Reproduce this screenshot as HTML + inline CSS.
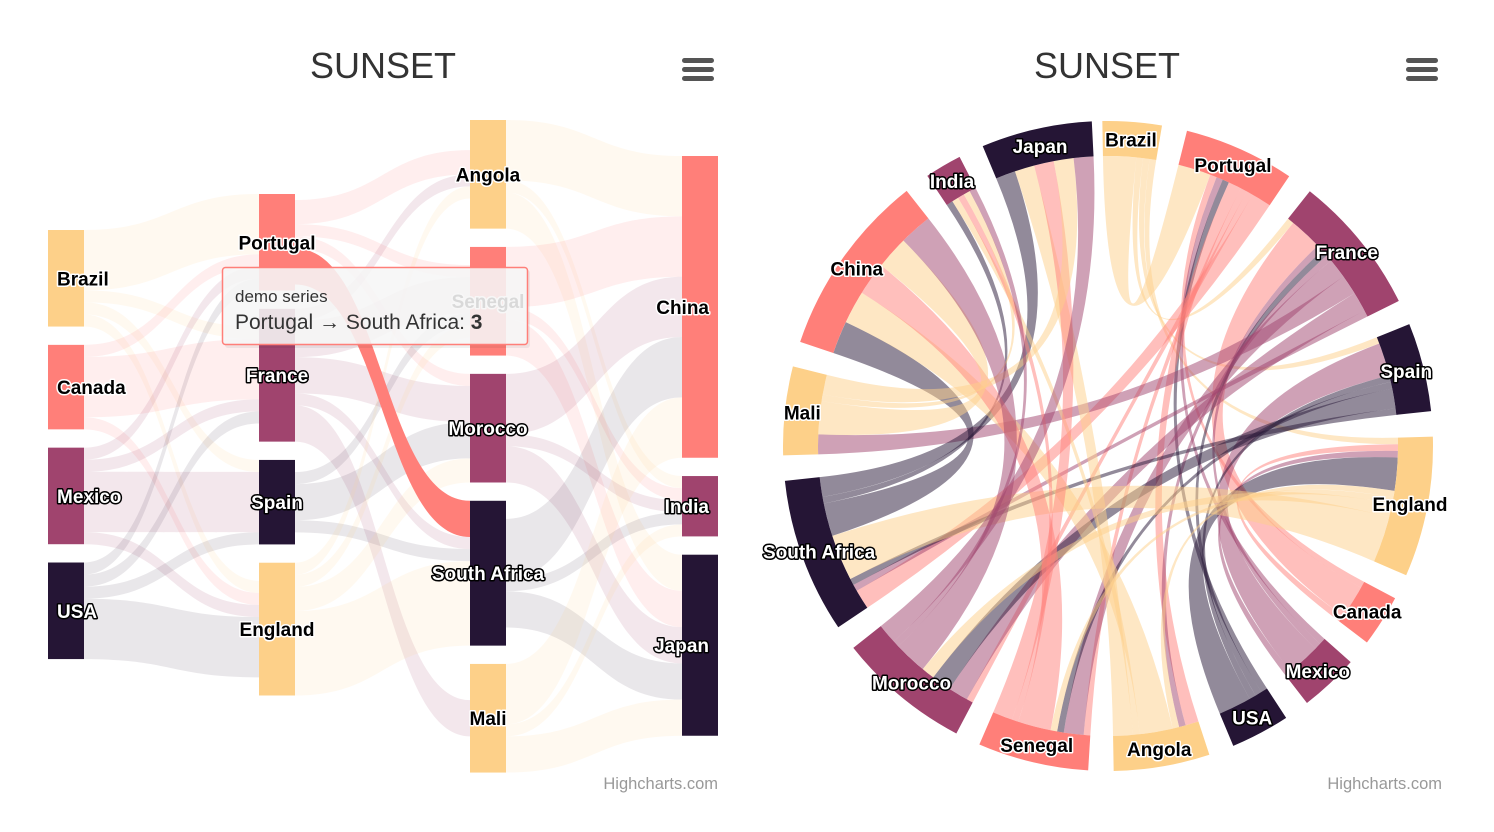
<!DOCTYPE html>
<html><head><meta charset="utf-8"><style>
html,body{margin:0;padding:0;background:#fff;width:1494px;height:832px;overflow:hidden}
svg text{font-family:"Liberation Sans",sans-serif}
.lbl{font-weight:bold;font-size:19px;paint-order:stroke;stroke-linejoin:round}
</style></head><body>
<svg id="s" width="1494" height="832" xmlns="http://www.w3.org/2000/svg">
<rect width="1494" height="832" fill="#fff"/>
<g id="sank"></g><g id="wheel"></g>
<text x="383" y="78" font-size="36" fill="#333" text-anchor="middle">SUNSET</text>
<text x="1107" y="78" font-size="36" fill="#333" text-anchor="middle">SUNSET</text>
<g fill="#555">
<rect x="682" y="58" width="32" height="5" rx="2.5"/><rect x="682" y="67" width="32" height="5" rx="2.5"/><rect x="682" y="76" width="32" height="5" rx="2.5"/>
<rect x="1406" y="58" width="32" height="5" rx="2.5"/><rect x="1406" y="67" width="32" height="5" rx="2.5"/><rect x="1406" y="76" width="32" height="5" rx="2.5"/>
</g>
<text x="718" y="789" font-size="16.5" fill="#999" text-anchor="end">Highcharts.com</text>
<text x="1442" y="789" font-size="16.5" fill="#999" text-anchor="end">Highcharts.com</text>
<g id="tip"></g>
</svg>
<script>
const NS="http://www.w3.org/2000/svg";
function el(p,t,a,txt){const e=document.createElementNS(NS,t);for(const k in a)e.setAttribute(k,a[k]);if(txt!==undefined)e.textContent=txt;p.appendChild(e);return e;}
const COL=['#FDD089','#FF7F79','#A0446E','#251535'];
const data=[['Brazil','Portugal',5],['Brazil','France',1],['Brazil','Spain',1],['Brazil','England',1],['Canada','Portugal',1],['Canada','France',5],['Canada','England',1],['Mexico','Portugal',1],['Mexico','France',1],['Mexico','Spain',5],['Mexico','England',1],['USA','Portugal',1],['USA','France',1],['USA','Spain',1],['USA','England',5],['Portugal','Angola',2],['Portugal','Senegal',1],['Portugal','Morocco',1],['Portugal','South Africa',3],['France','Angola',1],['France','Senegal',3],['France','Mali',3],['France','Morocco',3],['France','South Africa',1],['Spain','Senegal',1],['Spain','Morocco',3],['Spain','South Africa',1],['England','Angola',1],['England','Senegal',1],['England','Morocco',2],['England','South Africa',7],['South Africa','China',5],['South Africa','India',1],['South Africa','Japan',3],['Angola','China',5],['Angola','India',1],['Angola','Japan',3],['Senegal','China',5],['Senegal','India',1],['Senegal','Japan',3],['Mali','China',5],['Mali','India',1],['Mali','Japan',3],['Morocco','China',5],['Morocco','India',1],['Morocco','Japan',3]];
const wo=['Brazil','Portugal','France','Spain','England','Canada','Mexico','USA','Angola','Senegal','Morocco','South Africa','Mali','China','India','Japan'];
const color={};wo.forEach((n,i)=>color[n]=COL[i%4]);
const inS={},outS={};wo.forEach(n=>{inS[n]=0;outS[n]=0});
data.forEach(([a,b,v])=>{outS[a]+=v;inS[b]+=v});
// SANKEY
const cols=[['Brazil','Canada','Mexico','USA'],['Portugal','France','Spain','England'],['Angola','Senegal','Morocco','South Africa','Mali'],['China','India','Japan']];
const cx=[48,259,470,682],ctop=[230,194,120,156],s=12.07,gap=18.3,W=36;
const N={};
cols.forEach((c,ci)=>{let y=ctop[ci];c.forEach(n=>{const v=Math.max(inS[n],outS[n]);N[n]={x:cx[ci],y:y,h:v*s,ci:ci};y+=v*s+gap;});});
const sk=document.getElementById('sank');
const oc={},ic={};
for(const n in N){oc[n]=N[n].y+(N[n].h-outS[n]*s)/2;ic[n]=N[n].y+(N[n].h-inS[n]*s)/2;}
const sortedOut=data.slice().sort((p,q)=>N[p[0]].y-N[q[0]].y||N[p[1]].y-N[q[1]].y);
const links=[];
sortedOut.forEach(l=>{links.push({l:l,y1:oc[l[0]]});oc[l[0]]+=l[2]*s;});
const byIn=links.slice().sort((p,q)=>N[p.l[1]].y-N[q.l[1]].y||N[p.l[0]].y-N[q.l[0]].y);
byIn.forEach(k=>{k.y2=ic[k.l[1]];ic[k.l[1]]+=k.l[2]*s;});
let hl=null;
links.forEach(k=>{const [a,b,v]=k.l;const x1=N[a].x+W,x2=N[b].x,h=v*s,m=(x1+x2)/2;
const d=`M${x1},${k.y1}C${m},${k.y1} ${m},${k.y2} ${x2},${k.y2}L${x2},${k.y2+h}C${m},${k.y2+h} ${m},${k.y1+h} ${x1},${k.y1+h}Z`;
if(a=='Portugal'&&b=='South Africa')hl=d;else el(sk,'path',{d:d,fill:color[a],'fill-opacity':color[a]=='#251535'?0.1:0.13});});
el(sk,'path',{d:hl,fill:'#FF7F79'});
for(const n in N){const o=N[n];el(sk,'rect',{x:o.x,y:o.y,width:W,height:o.h,fill:color[n]});}
for(const n in N){const o=N[n];const dark=color[n]=='#A0446E'||color[n]=='#251535';
let x,anc;if(o.ci==0){x=o.x+9;anc='start'}else if(o.ci==3){x=o.x+W-9;anc='end'}else{x=o.x+W/2;anc='middle'}
el(sk,'text',{x:x,y:o.y+o.h/2+7,'text-anchor':anc,class:'lbl',fill:dark?'#fff':'#000',stroke:dark?'#000':'#fff','stroke-width':3},n);}
// WHEEL
const wg=document.getElementById('wheel');
const CX=1108,CY=446,RO=325,RI=290,g=4.5,u=(360-16*g)/218;
const A={};let ang=-1;
wo.forEach(n=>{const v=inS[n]+outS[n];A[n]={a0:ang,a1:ang+v*u,cur:ang};ang+=v*u+g;});
function P(a,r){const t=(a-90)*Math.PI/180;return [CX+r*Math.cos(t),CY+r*Math.sin(t)];}
data.forEach(([a,b,v])=>{const s0=A[a].cur,s1=s0+v*u;A[a].cur=s1;const t0=A[b].cur,t1=t0+v*u;A[b].cur=t1;
const p1=P(s0,RI),p2=P(s1,RI),p3=P(t0,RI),p4=P(t1,RI);
const d=`M${p1}A${RI},${RI} 0 0 1 ${p2}Q${CX},${CY} ${p3}A${RI},${RI} 0 0 1 ${p4}Q${CX},${CY} ${p1}Z`;
el(wg,'path',{d:d,fill:color[a],'fill-opacity':0.5});});
wo.forEach(n=>{const o=A[n];const p1=P(o.a0,RO),p2=P(o.a1,RO),p3=P(o.a1,RI),p4=P(o.a0,RI);const big=(o.a1-o.a0)>180?1:0;
el(wg,'path',{d:`M${p1}A${RO},${RO} 0 ${big} 1 ${p2}L${p3}A${RI},${RI} 0 ${big} 0 ${p4}Z`,fill:color[n]});});
wo.forEach(n=>{const o=A[n];const p=P((o.a0+o.a1)/2,(RO+RI)/2);const dark=color[n]=='#A0446E'||color[n]=='#251535';
el(wg,'text',{x:p[0],y:p[1]+7,'text-anchor':'middle',class:'lbl',fill:dark?'#fff':'#000',stroke:dark?'#000':'#fff','stroke-width':3},n);});
// tooltip
const tp=document.getElementById('tip');
el(tp,'rect',{x:225,y:270,width:305,height:78,fill:'#000','fill-opacity':0.06,rx:3});
el(tp,'rect',{x:222.5,y:267.5,width:305,height:77,fill:'#f7f7f7','fill-opacity':0.88,stroke:'#FF7F79','stroke-width':1.5,rx:3});
el(tp,'text',{x:235,y:302,'font-size':17,fill:'#333'},'demo series');
const t=el(tp,'text',{x:235,y:329,'font-size':21,fill:'#333'},'Portugal → South Africa: ');
el(t,'tspan',{'font-weight':'bold'},'3');
</script>
</body></html>
